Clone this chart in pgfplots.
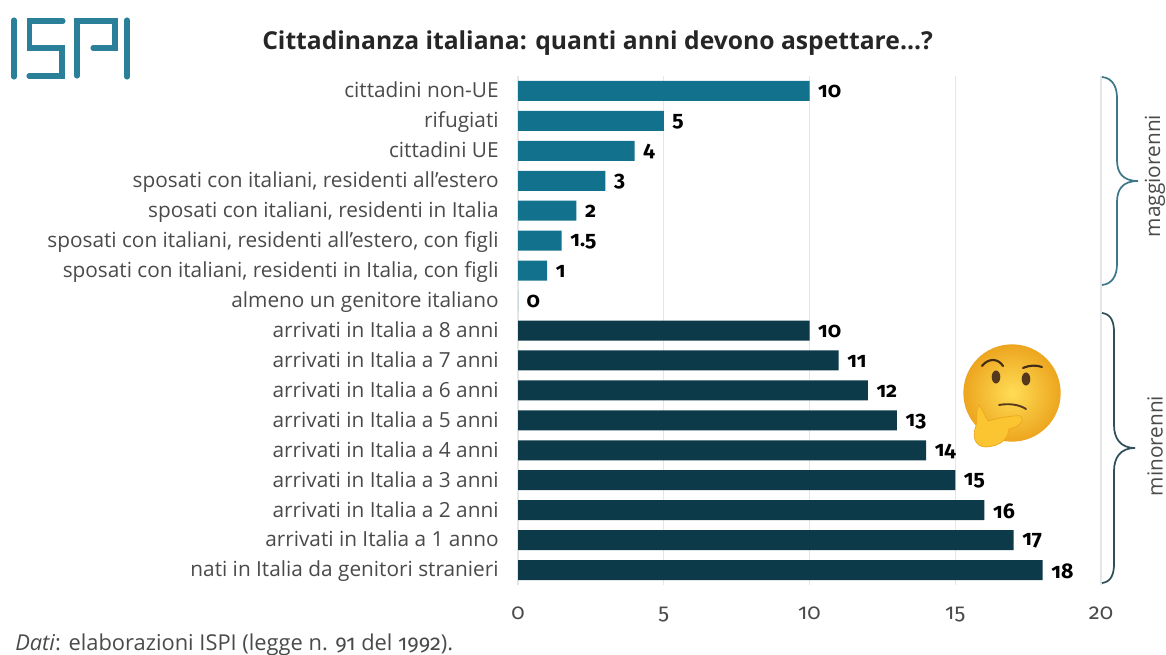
\documentclass[border=0pt]{standalone}
\usepackage{pgfplots}
\pgfplotsset{compat=1.18}
\usepackage{fontspec}
\setmainfont{Open Sans}
\newfontfamily\numfont[Numbers=OldStyle]{Fira Sans}
\definecolor{teal1}{HTML}{12728E}
\definecolor{dark1}{HTML}{0C3A49}
\definecolor{txt}{HTML}{4A4A4A}
\definecolor{gridc}{HTML}{E6E6E6}
\definecolor{faceA}{HTML}{FFDD55}
\definecolor{faceB}{HTML}{EDA51F}
\definecolor{handc}{HTML}{FBC531}
\begin{document}
\begin{tikzpicture}
\useasboundingbox (0,0) rectangle (874.5pt,-491.25pt);
\begin{axis}[
  at={(388.5pt,-438.75pt)}, anchor=south west,
  scale only axis, width=437.25pt, height=381.75pt,
  xmin=0, xmax=20, ymin=-0.5, ymax=16.5, y dir=reverse,
  axis line style={draw=none}, major tick length=0pt,
  xtick={0,5,10,15,20}, xmajorgrids, grid style={gridc,line width=0.8pt},
  ytick={0,...,16},
  yticklabels={cittadini non-UE,rifugiati,cittadini UE,{sposati con italiani, residenti all'estero},{sposati con italiani, residenti in Italia},{sposati con italiani, residenti all'estero, con figli},{sposati con italiani, residenti in Italia, con figli},almeno un genitore italiano,arrivati in Italia a 8 anni,arrivati in Italia a 7 anni,arrivati in Italia a 6 anni,arrivati in Italia a 5 anni,arrivati in Italia a 4 anni,arrivati in Italia a 3 anni,arrivati in Italia a 2 anni,arrivati in Italia a 1 anno,nati in Italia da genitori stranieri},
  yticklabel style={font=\fontsize{15.6}{16}\selectfont, text=txt, xshift=-11pt, yshift=-2.5pt, text height=0.75em, text depth=0.22em},
  xticklabel style={font=\numfont\fontsize{16.5}{18}\selectfont, text=txt, yshift=-13pt},
  /pgf/number format/assume math mode=true,
  xbar, bar shift=0pt, bar width=15pt,
  nodes near coords,
  every node near coord/.append style={font=\numfont\bfseries\fontsize{16}{16}\selectfont, text=black, xshift=3pt, yshift=-0.7pt},
  clip=false,
]
\addplot[fill=teal1, draw=none, forget plot] table[x=v,y=i] {
i v
0 10
1 5
2 4
3 3
4 2
5 1.5
6 1
7 0
};
\addplot[fill=dark1, draw=none, forget plot] table[x=v,y=i] {
i v
8 10
9 11
10 12
11 13
12 14
13 15
14 16
15 17
16 18
};
\end{axis}
\begin{scope}[x=0.75pt,y=-0.75pt]
% title and source
\node[anchor=west,font=\bfseries\fontsize{18.5}{20}\selectfont,text=black!85,inner sep=0] at (262,43.5) {Cittadinanza italiana: quanti anni devono aspettare...?};
\node[anchor=west,font=\fontsize{16.4}{18}\selectfont,text=txt,inner sep=0] at (15,645) {\textit{Dati}: elaborazioni ISPI (legge n. {\numfont 91} del {\numfont 1992}).};
% logo
\draw[teal1!90!white,line width=3.8pt,line cap=round,line join=miter]
 (14,20)--(14,77)
 (63,21)--(29.5,21)--(29.5,48)--(62,48)--(62,76)--(29,76)
 (77,76)--(77,21)--(115,21)--(115,48)--(93,48)
 (127,20)--(127,77);
% braces
\draw[color=teal1!60!gray,line width=1.3pt]
 (1102,77) .. controls (1112,78) and (1117,86) .. (1117,98) -- (1117,160)
 .. controls (1117,172) and (1122,181) .. (1138,181)
 .. controls (1122,181) and (1117,190) .. (1117,202) -- (1117,264)
 .. controls (1117,276) and (1112,284) .. (1102,285);
\draw[color=dark1!70!gray,line width=1.3pt]
 (1102,313) .. controls (1110,314) and (1114,320) .. (1114,332) -- (1114,425)
 .. controls (1114,438) and (1120,448) .. (1135,448)
 .. controls (1120,448) and (1114,458) .. (1114,471) -- (1114,564)
 .. controls (1114,576) and (1110,582) .. (1102,583);
\node[rotate=90,font=\fontsize{15.6}{16}\selectfont,text=txt] at (1155,176) {maggiorenni};
\node[rotate=90,font=\fontsize{15.6}{16}\selectfont,text=txt] at (1155,446) {minorenni};
% thinking face
\shade[inner color=faceA, outer color=faceB] (1012,393) circle[radius=36.5pt];
\fill[black!55!brown] (996,377) ellipse[x radius=4.3,y radius=6.5];
\fill[black!55!brown] (1026,379) ellipse[x radius=4.3,y radius=6.5];
\draw[black!65!brown,line width=1.6pt,line cap=round] (982,366) .. controls (988,358) and (998,358) .. (1003,366);
\draw[black!65!brown,line width=1.6pt,line cap=round] (1023,368) .. controls (1030,365) and (1036,365) .. (1042,367);
\draw[black!55!brown,line width=1.4pt,line cap=round] (999,405) .. controls (1010,403) and (1020,405) .. (1026,409);
\fill[handc,draw=faceB,line width=0.5pt]
 (979,405) .. controls (983,410) and (985,416) .. (988,421)
 .. controls (1000,418) and (1012,415) .. (1021,416)
 .. controls (1025,421) and (1019,427) .. (1009,429)
 .. controls (1008,438) and (1002,446) .. (986,447)
 .. controls (974,447) and (972,435) .. (976,426)
 .. controls (978,419) and (975,411) .. (979,405) -- cycle;
\end{scope}
\end{tikzpicture}
\end{document}
